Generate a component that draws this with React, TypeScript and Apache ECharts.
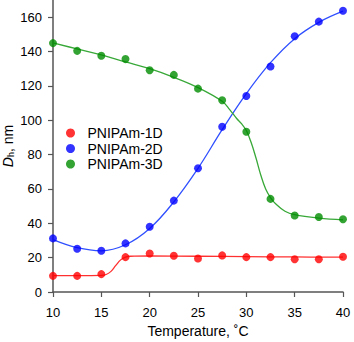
import React, { useEffect, useRef } from "react";
import * as echarts from "echarts";

const temps = [10, 12.5, 15, 17.5, 20, 22.5, 25, 27.5, 30, 32.5, 35, 37.5, 40];
const d1 = [9.4, 9.4, 10.4, 20.3, 22.4, 21.1, 19.5, 21.3, 20.3, 20.3, 19.1, 19.1, 20.5];
const d2 = [31.2, 25.2, 24.0, 28.3, 38.0, 53.2, 72.0, 96.2, 114.1, 131.3, 148.9, 157.4, 163.7];
const d3 = [144.9, 140.4, 137.5, 135.6, 129.1, 126.4, 118.4, 111.6, 93.3, 54.2, 44.5, 43.7, 42.4];

// fitted curves
const fit1T = [10, 15, 15.5, 16, 16.5, 17, 17.5, 18, 20, 25, 30, 35, 40];
const fit1V = [9.5, 9.7, 10.2, 12, 15.5, 18.7, 20.3, 20.8, 21, 20.8, 20.6, 20.4, 20.3];
const fit2T = [10, 12.5, 15, 17.5, 20, 22.5, 25, 27.5, 30, 32.5, 35, 37.5, 40];
const fit2V = [30.5, 25.8, 24.0, 27.5, 37.0, 52.5, 72.0, 94.5, 115.5, 133.5, 147.5, 157.0, 163.5];
const fit3T = [10, 12.5, 15, 17.5, 20, 22.5, 25, 27.5, 28.3, 29, 29.5, 30, 30.5, 31, 31.5, 32, 32.5, 33, 34, 35, 37.5, 40];
const fit3V = [145, 141.5, 138, 134, 130, 125, 119, 111, 106, 101, 98, 94, 87, 78, 68, 60, 55, 51.5, 47, 45, 43, 42];

const yTicks = [0, 20, 40, 60, 80, 100, 120, 140, 160];

const names = ["PNIPAm-1D", "PNIPAm-2D", "PNIPAm-3D"];
const dotColors = ["#ff0000", "#0000ff", "#008c00"];
const lineColors = ["#ff3030", "#3050ff", "#38a838"];

const zip = (a: number[], b: number[]) => a.map((v, i) => [v, b[i]]);

export default function App() {
  const ref = useRef<HTMLDivElement>(null);
  useEffect(() => {
    if (!ref.current) return;
    const chart = echarts.init(ref.current, null, { renderer: "svg" });
    const font = "Liberation Sans, Arial, Helvetica, sans-serif";
    const fits = [zip(fit1T, fit1V), zip(fit2T, fit2V), zip(fit3T, fit3V)];
    const pts = [zip(temps, d1), zip(temps, d2), zip(temps, d3)];
    const series: any[] = [];
    for (let i = 0; i < 3; i++) {
      series.push({
        type: "line",
        name: names[i] + " fit",
        data: fits[i],
        smooth: 0.4,
        showSymbol: false,
        symbol: "none",
        lineStyle: { color: lineColors[i], width: 1.3 },
        z: 2,
      });
    }
    for (let i = 0; i < 3; i++) {
      series.push({
        type: "scatter",
        name: names[i],
        data: pts[i],
        symbol: "circle",
        symbolSize: 8,
        itemStyle: { color: dotColors[i] },
        z: 3,
      });
    }
    chart.setOption({
      animation: false,
      textStyle: { fontFamily: font },
      grid: { left: 53, right: 11, top: 0, bottom: 50, containLabel: false, outerBoundsMode: "none" },
      legend: {
        data: names,
        orient: "vertical",
        left: 61,
        top: 121,
        icon: "circle",
        itemWidth: 24,
        itemHeight: 9,
        itemGap: 1.5,
        textStyle: { fontSize: 14, color: "#000", fontFamily: font, lineHeight: 14 },
      },
      xAxis: {
        type: "value",
        min: 10,
        max: 40,
        interval: 5,
        name: "Temperature, ˚C",
        nameLocation: "middle",
        nameGap: 32,
        nameMoveOverlap: false,
        nameTextStyle: { fontSize: 14, color: "#000", fontFamily: font },
        axisLine: { show: true, lineStyle: { color: "#555", width: 1.5 } },
        axisTick: { show: true, length: 5, lineStyle: { color: "#555", width: 1.2 } },
        axisLabel: { fontSize: 13, color: "#000", margin: 14, fontFamily: font },
        splitLine: { show: false },
      },
      yAxis: {
        type: "value",
        min: 0,
        max: 170,
        interval: 20,
        name: "{i|D}{s|h}{n|, nm}",
        nameLocation: "middle",
        nameGap: 38,
        nameMoveOverlap: false,
        nameTextStyle: {
          fontSize: 14,
          color: "#000",
          fontFamily: font,
          rich: {
            i: { fontSize: 14, fontStyle: "italic", fontFamily: font, color: "#000" },
            s: { fontSize: 9, fontFamily: font, color: "#000", verticalAlign: "bottom", padding: [6, 0, 0, 0] },
            n: { fontSize: 14, fontFamily: font, color: "#000" },
          },
        },
        axisLine: { show: true, lineStyle: { color: "#555", width: 1.5 } },
        axisTick: { show: true, length: 5, customValues: yTicks, lineStyle: { color: "#555", width: 1.2 } },
        axisLabel: { fontSize: 13, color: "#000", margin: 11, fontFamily: font, customValues: yTicks },
        splitLine: { show: false },
      },
      series,
    });
    return () => chart.dispose();
  }, []);
  return <div ref={ref} style={{ width: 354, height: 342, position: "absolute", left: 0, top: 0 }} />;
}
